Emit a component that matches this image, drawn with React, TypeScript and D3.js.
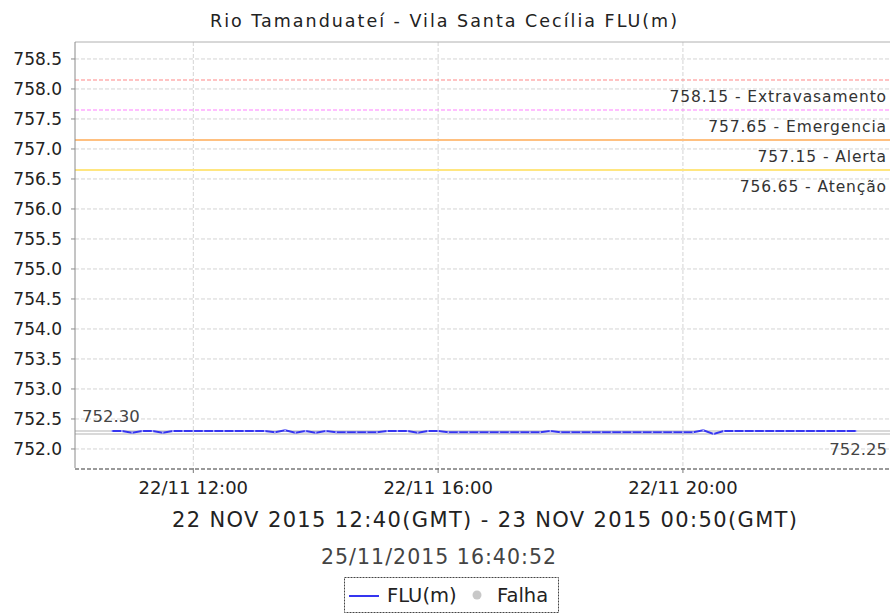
import React from "react";
import * as d3 from "d3";

const W = 890;
const H = 614;
const FONT = "'DejaVu Sans', sans-serif";

// 10-minute readings, local time (GMT-2), 22/11/2015 10:40 -> 22:50
const startTime = new Date(2015, 10, 22, 10, 40);
const levels: number[] = [
  752.30, 752.30, 752.27, 752.30, 752.30, 752.27,
  752.30, 752.30, 752.30, 752.30, 752.30, 752.30, 752.30, 752.30, 752.30, 752.30,
  752.28, 752.31, 752.27, 752.30, 752.27, 752.30,
  752.28, 752.28, 752.28, 752.28, 752.28,
  752.30, 752.30, 752.30, 752.27, 752.30, 752.30,
  752.28, 752.28, 752.28, 752.28, 752.28, 752.28, 752.28, 752.28, 752.28, 752.28,
  752.30,
  752.28, 752.28, 752.28, 752.28, 752.28, 752.28, 752.28, 752.28, 752.28, 752.28, 752.28, 752.28, 752.28, 752.28,
  752.31, 752.25,
  752.30, 752.30, 752.30, 752.30, 752.30, 752.30, 752.30, 752.30, 752.30, 752.30, 752.30, 752.30, 752.30, 752.30,
];

const thresholdValues = [758.15, 757.65, 757.15, 756.65];
const thresholdNames = ["Extravasamento", "Emergencia", "Alerta", "Atenção"];
const thresholdColors = ["#ff8888", "#ff80ff", "#ffc080", "#ffe680"];
const thresholdDashed = [true, true, false, false];

const yTicks = [752.0, 752.5, 753.0, 753.5, 754.0, 754.5, 755.0, 755.5, 756.0, 756.5, 757.0, 757.5, 758.0, 758.5];
const xTicks = [new Date(2015, 10, 22, 12, 0), new Date(2015, 10, 22, 16, 0), new Date(2015, 10, 22, 20, 0)];

const maxValue = 752.30;
const minValue = 752.25;

const titleText = "Rio Tamanduateí - Vila Santa Cecília FLU(m)";
const periodText = "22 NOV 2015 12:40(GMT) - 23 NOV 2015 00:50(GMT)";
const stampText = "25/11/2015 16:40:52";

export default function App() {
  const left = 75, right = 890, top = 42, bottom = 468;
  const data = levels.map((v, i) => ({ t: new Date(startTime.getTime() + i * 600000), v }));

  const x = d3.scaleTime()
    .domain([new Date(2015, 10, 22, 10, 4), new Date(2015, 10, 22, 23, 23)])
    .range([left, right]);
  const y = d3.scaleLinear().domain([751.683, 758.783]).range([bottom, top]);

  const line = d3.line<{ t: Date; v: number }>().x(d => x(d.t)).y(d => y(d.v));
  const fmt = d3.timeFormat("%d/%m %H:%M");

  return (
    <svg width={W} height={H} style={{ position: "absolute", left: 0, top: 0, background: "#fff" }} fontFamily={FONT}>
      <text x={210} y={27} fontSize={17.5} fill="#222" textLength={467}>{titleText}</text>

      {/* grid */}
      {yTicks.map(t => (
        <line key={"gy" + t} x1={left} x2={right} y1={y(t)} y2={y(t)} stroke="#d4d4d4" strokeDasharray="4,2" />
      ))}
      {xTicks.map(t => (
        <line key={"gx" + t.getTime()} x1={x(t)} x2={x(t)} y1={top} y2={bottom} stroke="#d4d4d4" strokeDasharray="4,2" />
      ))}
      <line x1={left} x2={right} y1={top} y2={top} stroke="#b0b0b0" />

      {/* thresholds */}
      {thresholdValues.map((v, i) => (
        <g key={"th" + v}>
          <line x1={left} x2={right} y1={y(v)} y2={y(v)} stroke={thresholdColors[i]}
            strokeWidth={thresholdDashed[i] ? 1.2 : 2} strokeDasharray={thresholdDashed[i] ? "4,2" : undefined} />
          <text x={887} y={y(v) + 22} textAnchor="end" fontSize={15.5} fill="#333" letterSpacing={0.9}>
            {v.toFixed(2) + " - " + thresholdNames[i]}
          </text>
        </g>
      ))}

      {/* max / min markers */}
      <line x1={left} x2={right} y1={y(maxValue)} y2={y(maxValue)} stroke="#cccccc" strokeWidth={1.5} />
      <line x1={left} x2={right} y1={y(minValue)} y2={y(minValue)} stroke="#cccccc" strokeWidth={1.5} />
      <text x={82} y={422} fontSize={16.5} fill="#444">{maxValue.toFixed(2)}</text>
      <text x={887} y={455} textAnchor="end" fontSize={16.5} fill="#444">{minValue.toFixed(2)}</text>

      {/* series */}
      <path d={line(data) || ""} fill="none" stroke="#3535f0" strokeWidth={2} />
      {data.map((d, i) => (
        <circle key={"p" + i} cx={x(d.t)} cy={y(d.v)} r={0.9} fill="#b8b8ff" />
      ))}

      {/* y axis */}
      <line x1={left} x2={left} y1={top} y2={bottom} stroke="#8a8a8a" />
      {yTicks.map(t => (
        <g key={"ty" + t}>
          <line x1={left - 4} x2={left} y1={y(t)} y2={y(t)} stroke="#8a8a8a" />
          <text x={62} y={y(t) + 6} textAnchor="end" fontSize={17} fill="#222">{t.toFixed(1)}</text>
        </g>
      ))}

      {/* x axis */}
      <line x1={left} x2={right} y1={bottom + 1} y2={bottom + 1} stroke="#7a7a7a" strokeWidth={1.5} strokeDasharray="4,2" />
      {xTicks.map(t => (
        <g key={"tx" + t.getTime()}>
          <line x1={x(t)} x2={x(t)} y1={bottom} y2={bottom + 5} stroke="#7a7a7a" />
          <text x={x(t)} y={494} textAnchor="middle" fontSize={18} fill="#222">{fmt(t)}</text>
        </g>
      ))}

      <text x={172} y={527} fontSize={21} fill="#222" textLength={625}>{periodText}</text>
      <text x={321} y={564} fontSize={20.5} fill="#444" textLength={235}>{stampText}</text>

      {/* legend */}
      <rect x={344.5} y={577.5} width={214} height={35} fill="#fff" stroke="#444" strokeDasharray="2,1" />
      <line x1={349} x2={379} y1={596} y2={596} stroke="#3535f0" strokeWidth={2} />
      <text x={387} y={602} fontSize={19.5} fill="#222">FLU(m)</text>
      <circle cx={477} cy={595} r={4.5} fill="#c8c8c8" />
      <text x={497} y={602} fontSize={19.5} fill="#222">Falha</text>
    </svg>
  );
}
